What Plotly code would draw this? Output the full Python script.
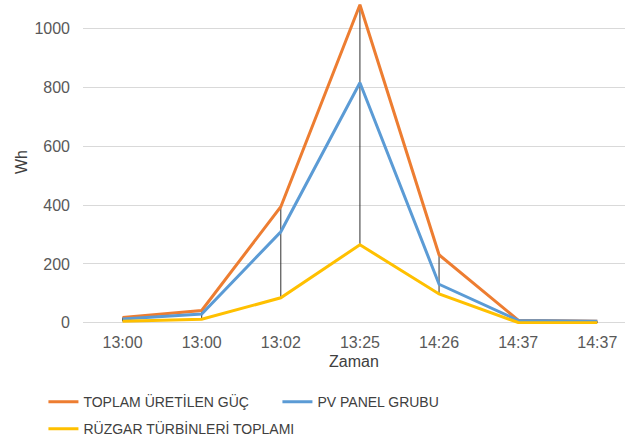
import plotly.graph_objects as go

# Measurement times (two pairs share the same clock label)
times = ["13:00", "13:00", "13:02", "13:25", "14:26", "14:37", "14:37"]
toplam = [18, 42, 394, 1080, 231, 9, 5]      # TOPLAM ÜRETİLEN GÜÇ
pv_panel = [13, 30, 309, 815, 131, 8, 5]     # PV PANEL GRUBU
ruzgar = [5, 12, 85, 265, 98, 1, 0]          # RÜZGAR TÜRBİNLERİ TOPLAMI

pos = list(range(len(times)))

# High-low lines joining the largest and smallest value at each time
hl_x, hl_y = [], []
for i in pos:
    vals = [toplam[i], pv_panel[i], ruzgar[i]]
    hl_x += [i, i, None]
    hl_y += [max(vals), min(vals), None]

fig = go.Figure()
fig.add_trace(go.Scatter(x=hl_x, y=hl_y, mode="lines",
                         line=dict(color="#303030", width=1),
                         showlegend=False, hoverinfo="skip"))
fig.add_trace(go.Scatter(x=pos, y=toplam, mode="lines", name="TOPLAM ÜRETİLEN GÜÇ",
                         line=dict(color="#ED7D31", width=3), legend="legend"))
fig.add_trace(go.Scatter(x=pos, y=pv_panel, mode="lines", name="PV PANEL GRUBU",
                         line=dict(color="#5B9BD5", width=3), legend="legend"))
fig.add_trace(go.Scatter(x=pos, y=ruzgar, mode="lines", name="RÜZGAR TÜRBİNLERİ TOPLAMI",
                         line=dict(color="#FFC000", width=3), legend="legend2"))

font_main = "Liberation Sans, Arial, sans-serif"

fig.update_layout(
    width=630, height=439,
    margin=dict(l=83, r=5, t=0, b=115, autoexpand=False),
    paper_bgcolor="white", plot_bgcolor="white",
    font=dict(family=font_main, size=16, color="#595959"),
    xaxis=dict(
        tickmode="array", tickvals=pos, ticktext=times,
        range=[-0.5, 6.35], showgrid=False, zeroline=False, showline=False,
        ticks="", ticklabelstandoff=7,
        title=dict(text="Zaman", font=dict(size=16, color="#404040"), standoff=5),
    ),
    yaxis=dict(
        range=[-4, 1096], tickvals=[0, 200, 400, 600, 800, 1000],
        showgrid=True, gridcolor="#D9D9D9", gridwidth=1, zeroline=False,
        showline=False, ticks="", ticklabelstandoff=12,
        title=dict(text="Wh", font=dict(size=16, color="#404040"), standoff=2),
    ),
    legend=dict(orientation="h", x=-0.073, y=-0.192, xanchor="left", yanchor="top",
                entrywidth=189, entrywidthmode="pixels",
                font=dict(family=font_main, size=14, color="#404040"),
                bgcolor="rgba(0,0,0,0)"),
    legend2=dict(orientation="h", x=-0.073, y=-0.275, xanchor="left", yanchor="top",
                 font=dict(family=font_main, size=14, color="#404040"),
                 bgcolor="rgba(0,0,0,0)"),
)

fig.write_html("out.html")
